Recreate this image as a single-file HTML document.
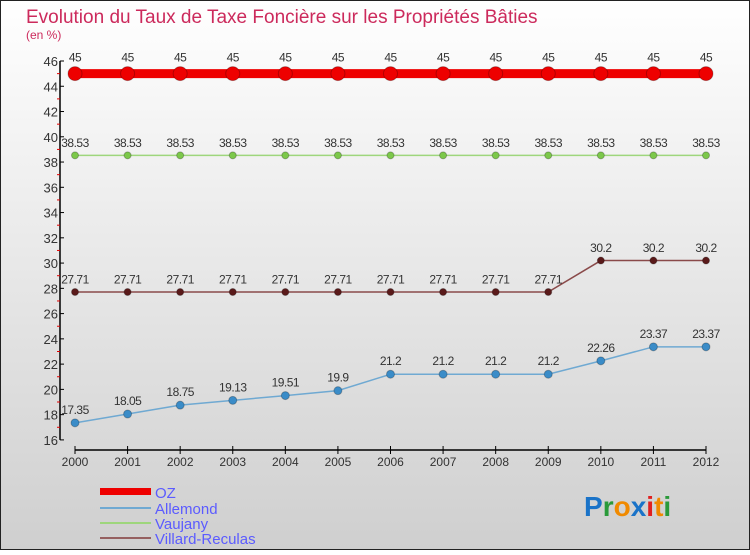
<!DOCTYPE html>
<html><head><meta charset="utf-8"><style>
html,body{margin:0;padding:0}
body{width:750px;height:550px;overflow:hidden;font-family:"Liberation Sans",sans-serif}
svg text{font-family:"Liberation Sans",sans-serif}
</style></head><body>
<svg id="chart" width="750" height="550" xmlns="http://www.w3.org/2000/svg">
<defs><linearGradient id="bg" x1="0" y1="0" x2="0" y2="1"><stop offset="0" stop-color="#ffffff"/><stop offset="1" stop-color="#cfcfcf"/></linearGradient></defs>
<rect x="0.5" y="0.5" width="749" height="549" fill="url(#bg)" stroke="#222"/>
<text x="26" y="23" font-size="19" fill="#cc2a5c">Evolution du Taux de Taxe Foncière sur les Propriétés Bâties</text>
<text x="26" y="39" font-size="12" fill="#cc2a5c">(en %)</text>
<g id="axes"></g><g id="series"></g>
<g>
<rect x="100" y="488" width="51" height="7" fill="#ee0000"/>
<text x="155" y="498" font-size="15" fill="#5b5bff">OZ</text>
<rect x="100" y="507" width="51" height="2" fill="#6fa9d2"/>
<text x="155" y="514" font-size="15" fill="#5b5bff">Allemond</text>
<rect x="100" y="522" width="51" height="2" fill="#9ed67c"/>
<text x="155" y="529" font-size="15" fill="#5b5bff">Vaujany</text>
<rect x="100" y="537" width="51" height="2" fill="#956060"/>
<text x="155" y="544" font-size="15" fill="#5b5bff">Villard-Reculas</text>
</g>
<text x="584" y="516" font-size="28" font-weight="bold"><tspan fill="#1a73c8">P</tspan><tspan fill="#2a9a3a">r</tspan><tspan fill="#f08a00">o</tspan><tspan fill="#1a73c8">x</tspan><tspan fill="#e02020">i</tspan><tspan fill="#f08a00">t</tspan><tspan fill="#2a9a3a">i</tspan></text>
</svg>
<script>
const years=[2000,2001,2002,2003,2004,2005,2006,2007,2008,2009,2010,2011,2012];
const oz=[45,45,45,45,45,45,45,45,45,45,45,45,45];
const allemond=[17.35,18.05,18.75,19.13,19.51,19.9,21.2,21.2,21.2,21.2,22.26,23.37,23.37];
const vaujany=[38.53,38.53,38.53,38.53,38.53,38.53,38.53,38.53,38.53,38.53,38.53,38.53,38.53];
const villard=[27.71,27.71,27.71,27.71,27.71,27.71,27.71,27.71,27.71,27.71,30.2,30.2,30.2];
const yTicks=[16,18,20,22,24,26,28,30,32,34,36,38,40,42,44,46];
const NS="http://www.w3.org/2000/svg";
const x=i=>75+i*(706-75)/(years.length-1);
const y=v=>61+(46-v)*12.63;
function mk(tag,attrs,parent){const e=document.createElementNS(NS,tag);for(const k in attrs)e.setAttribute(k,attrs[k]);parent.appendChild(e);return e;}
const axes=document.getElementById('axes'),ser=document.getElementById('series');
let a=mk('line',{x1:60,y1:y(46),x2:60,y2:y(16),stroke:'#000','stroke-width':1.5},axes);


a=mk('line',{x1:75,y1:450,x2:706,y2:450,stroke:'#000','stroke-width':1.5},axes);


yTicks.forEach(v=>{
 const t=mk('line',{x1:60,y1:y(v),x2:64,y2:y(v),stroke:'#000'},axes);
 
 
 if(v<46){const m=mk('line',{x1:57,y1:y(v+1),x2:60,y2:y(v+1),stroke:'#e00000'},axes);
 
 }
 const l=mk('text',{x:58,y:y(v)+5,'font-size':13,fill:'#333','text-anchor':'end'},axes);
 l.textContent=v;
 
 
});
years.forEach((yr,i)=>{
 const t=mk('line',{x1:x(i),y1:446,x2:x(i),y2:454,stroke:'#000'},axes);
 
 
 const l=mk('text',{x:x(i),y:466,'font-size':12,fill:'#333','text-anchor':'middle'},axes);
 l.textContent=yr;
 
 
});
function series(data,name,line,dot,lw,r){
 const g=mk('g',{},ser);
 
 
 const p=mk('polyline',{points:data.map((v,i)=>x(i)+','+y(v)).join(' '),fill:'none',stroke:line,'stroke-width':lw},g);
 
 
 data.forEach((v,i)=>{
  const c=mk('circle',{cx:x(i),cy:y(v),r:r,fill:dot,stroke:'rgba(0,0,0,0.25)'},g);
  
  
  const t=mk('text',{x:x(i),y:y(v)-r-5,'font-size':12,fill:'#333','text-anchor':'middle','letter-spacing':'-0.5'},g);
  t.textContent=v;
  
  
 });
}
series(allemond,'allemond','#6fa9d2','#3a8cc8',1.5,4);
series(villard,'villard-reculas','#8a4a4a','#5a1a1a',1.5,3.5);
series(vaujany,'vaujany','#9ed67c','#7cc84a',1.5,3.5);
series(oz,'oz','#ee0000','#ee0000',9,7);
</script>
</body></html>
